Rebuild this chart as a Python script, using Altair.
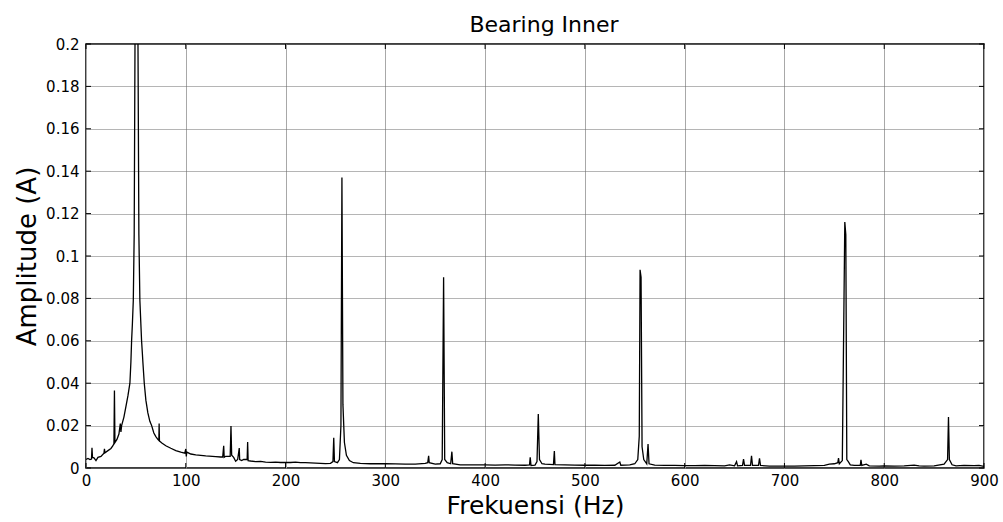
import altair as alt
import pandas as pd

# Spectrum points (frequency in Hz, amplitude in A)
freq = [0, 2, 4, 5.5, 6, 6.5, 8, 10, 12, 15, 18, 18.5, 19, 22, 25, 27, 28, 28.5, 29, 31, 33, 34.4, 35, 35.7,
        38, 40, 42, 44, 45, 45.7, 46.5, 47.4, 48.3, 49.1, 50.5, 52.1, 53, 54, 55.7, 56.5, 57, 58.4, 60, 62,
        64, 65.8, 68, 70, 72, 73, 73.3, 73.6, 76, 80, 85, 90, 95, 99, 100, 100.5, 101, 105, 110, 120, 130,
        135, 137, 138, 138.5, 140, 144.5, 145.3, 146, 148, 150, 152, 153.6, 154, 156, 158, 161.5, 162, 162.5,
        165, 170, 175, 180, 185, 190, 195, 200, 205, 210, 215, 220, 225, 230, 235, 240, 245, 247.5, 248.3,
        249, 252, 254, 255.5, 256.5, 257.5, 259, 261, 264, 268, 275, 285, 300, 310, 320, 330, 340, 342.5,
        343.4, 344, 350, 355, 357, 358.4, 359.5, 362, 365.5, 366.7, 367.5, 375, 385, 400, 410, 420, 430,
        440, 444.5, 445.2, 446, 450, 452, 453.3, 454.5, 457, 460, 468.5, 469.4, 470, 480, 490, 500, 510,
        520, 530, 535, 536, 545, 550, 553, 554.5, 555.3, 556.3, 557.3, 559, 562, 563.3, 564.3, 570, 580,
        590, 600, 610, 620, 630, 640, 645, 650, 652, 653, 658, 659, 660, 666, 667, 668, 674, 675, 676, 685,
        700, 710, 720, 730, 740, 745, 750, 753.5, 754.2, 755, 758, 760.5, 761.5, 762.5, 764, 766, 770, 776,
        776.7, 777.5, 782, 785, 795, 800, 810, 820, 830, 835, 840, 850, 860, 863.5, 864.4, 865.3, 868, 872,
        880, 890, 895, 900]
amp = [0.004, 0.0045, 0.004, 0.0042, 0.0095, 0.005, 0.0048, 0.0035, 0.005, 0.0055, 0.007, 0.009, 0.0072,
       0.0082, 0.0092, 0.0105, 0.0115, 0.0365, 0.012, 0.0135, 0.016, 0.021, 0.017, 0.02,
       0.024, 0.029, 0.034, 0.04, 0.05, 0.06, 0.068, 0.079, 0.11, 0.2, 0.6, 0.2, 0.11, 0.079, 0.06, 0.054,
       0.05, 0.04, 0.032, 0.026,
       0.022, 0.02, 0.0165, 0.0148, 0.0135, 0.013, 0.021, 0.0128, 0.0118, 0.0105, 0.0093, 0.0082, 0.0075,
       0.007, 0.009, 0.0055, 0.0075, 0.0066, 0.0062, 0.0057, 0.0054,
       0.0052, 0.0052, 0.0105, 0.005, 0.0055, 0.0055, 0.0198, 0.006, 0.005, 0.0032, 0.004, 0.0094, 0.004,
       0.0035, 0.004, 0.004, 0.0122, 0.0035,
       0.0033, 0.003, 0.0031, 0.0028, 0.0027, 0.0028, 0.0026, 0.0027, 0.0026, 0.0028, 0.0025, 0.0025,
       0.0024, 0.0023, 0.0022, 0.0021, 0.0022, 0.003, 0.0143,
       0.003, 0.0025, 0.004, 0.02, 0.137, 0.03, 0.012, 0.006, 0.0035, 0.0025, 0.0022, 0.002, 0.002, 0.0019,
       0.0018, 0.0018, 0.0022, 0.0025,
       0.0057, 0.0025, 0.0018, 0.002, 0.004, 0.09, 0.004, 0.0025, 0.002, 0.0077, 0.002, 0.0015, 0.0015,
       0.0015, 0.0014, 0.0015, 0.0014,
       0.0013, 0.0015, 0.005, 0.0012, 0.0014, 0.003, 0.0255, 0.004, 0.002, 0.0018, 0.0016, 0.008, 0.0016,
       0.0015, 0.0014, 0.0013, 0.0013,
       0.0012, 0.0013, 0.0028, 0.0013, 0.0015, 0.002, 0.004, 0.015, 0.0935, 0.09, 0.01, 0.004, 0.002,
       0.0113, 0.002, 0.0014, 0.0012,
       0.0012, 0.0011, 0.0011, 0.0012, 0.0011, 0.001, 0.0015, 0.001, 0.003, 0.001, 0.0012, 0.0042, 0.0012,
       0.0012, 0.0057, 0.0012, 0.0012, 0.0046, 0.0012, 0.0009,
       0.0009, 0.0009, 0.001, 0.0011, 0.0012, 0.0018, 0.002, 0.0025, 0.0047, 0.002, 0.0035, 0.116, 0.11,
       0.004, 0.003, 0.0015, 0.0012, 0.0012,
       0.0038, 0.0012, 0.0018, 0.001, 0.0009, 0.001, 0.0009, 0.001, 0.0014, 0.001, 0.0009, 0.001, 0.0018,
       0.004, 0.024, 0.004, 0.0015, 0.001,
       0.0012, 0.0011, 0.0012, 0.0008]

x_ticks = [0, 100, 200, 300, 400, 500, 600, 700, 800, 900]
y_ticks = [0, 0.02, 0.04, 0.06, 0.08, 0.1, 0.12, 0.14, 0.16, 0.18, 0.2]

W, H = 898, 424
FONT = "DejaVu Sans"

df = pd.DataFrame({"f": freq, "a": amp})
xt = pd.DataFrame({"t": x_ticks})
yt = pd.DataFrame({"t": y_ticks})

xscale = alt.Scale(domain=[0, 900], nice=False, zero=False)
yscale = alt.Scale(domain=[0, 0.2], nice=False)

line = alt.Chart(df).mark_line(color="black", strokeWidth=1.3, clip=True).encode(
    x=alt.X("f:Q", scale=xscale,
            axis=alt.Axis(values=x_ticks, title="Frekuensi (Hz)", tickSize=0, labelPadding=5,
                          labelFlush=False, labelOverlap=False,
                          labelFont=FONT, labelFontSize=15, labelColor="black",
                          titleFont=FONT, titleFontSize=25, titleFontWeight="normal",
                          titleColor="black", titlePadding=5, domain=False,
                          grid=True, gridColor="#a8a8a8", gridWidth=1)),
    y=alt.Y("a:Q", scale=yscale,
            axis=alt.Axis(values=y_ticks, title="Amplitude (A)", format=".2~f", tickSize=0,
                          labelFlush=False, labelOverlap=False,
                          labelPadding=7, labelFont=FONT, labelFontSize=15, labelColor="black",
                          titleFont=FONT, titleFontSize=26, titleFontWeight="normal",
                          titleColor="black", titlePadding=5, domain=False,
                          grid=True, gridColor="#6a6a6a", gridDash=[1, 1], gridWidth=1)),
)

tick_len = 5
bottom_ticks = alt.Chart(xt).mark_rule(color="black", strokeWidth=1).encode(
    x=alt.X("t:Q", scale=xscale), y=alt.value(H), y2=alt.value(H - tick_len))
top_ticks = alt.Chart(xt).mark_rule(color="black", strokeWidth=1).encode(
    x=alt.X("t:Q", scale=xscale), y=alt.value(0), y2=alt.value(tick_len))
left_ticks = alt.Chart(yt).mark_rule(color="black", strokeWidth=1).encode(
    y=alt.Y("t:Q", scale=yscale), x=alt.value(0), x2=alt.value(tick_len))
right_ticks = alt.Chart(yt).mark_rule(color="black", strokeWidth=1).encode(
    y=alt.Y("t:Q", scale=yscale), x=alt.value(W), x2=alt.value(W - tick_len))

chart = alt.layer(line, bottom_ticks, top_ticks, left_ticks, right_ticks).properties(
    width=W, height=H,
    title=alt.TitleParams("Bearing Inner", font=FONT, fontSize=22, fontWeight="normal",
                          color="black", offset=0, dx=9),
    autosize=alt.AutoSizeParams(type="none"),
    padding={"left": 86, "top": 44, "right": 19, "bottom": 54},
    background="white",
).configure_view(stroke="black", strokeWidth=1.5)

chart.save("out.html", embed_options={"renderer": "svg", "actions": False})
